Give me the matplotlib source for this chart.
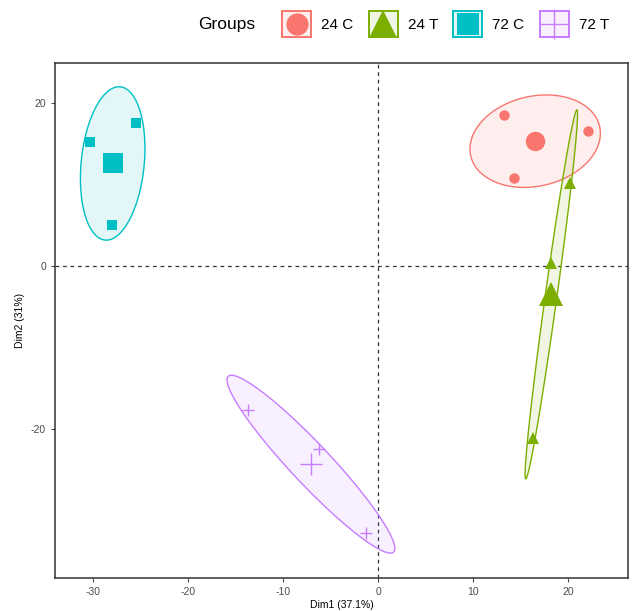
import numpy as np
import matplotlib
matplotlib.use("Agg")
import matplotlib.pyplot as plt
from matplotlib.lines import Line2D
from matplotlib.patches import Polygon, Rectangle
from matplotlib.legend_handler import HandlerBase

plt.rcParams['font.family'] = ['Liberation Sans', 'DejaVu Sans']
plt.rcParams['axes.unicode_minus'] = False

# Data
groups = ["24 C", "24 T", "72 C", "72 T"]
colors = ["#F8766D", "#7CAE00", "#00BFC4", "#C77CFF"]
markers = ["o", "^", "s", "+"]
dim1 = {
    "24 C": [13.2, 22.1, 14.3],
    "24 T": [20.2, 18.2, 16.3],
    "72 C": [-30.3, -25.5, -28.0],
    "72 T": [-13.7, -6.2, -1.3],
}
dim2 = {
    "24 C": [18.5, 16.6, 10.8],
    "24 T": [10.2, 0.4, -21.1],
    "72 C": [15.2, 17.5, 5.0],
    "72 T": [-17.7, -22.5, -32.8],
}
ellipse_scale = np.sqrt(2.0)  # level 0.5 ellipse for n = 3


def ellipse_points(x, y, scale, n=200):
    x = np.asarray(x)
    y = np.asarray(y)
    cov = np.cov(x, y)
    vals, vecs = np.linalg.eigh(cov)
    t = np.linspace(0, 2 * np.pi, n)
    circle = np.vstack([np.cos(t), np.sin(t)])
    pts = vecs @ (np.sqrt(vals)[:, None] * circle) * scale
    return np.column_stack([pts[0] + x.mean(), pts[1] + y.mean()])


class BoxMarkerHandler(HandlerBase):
    # ggplot-like key: light box with the point shape in the middle
    def create_artists(self, legend, orig_handle, xdescent, ydescent,
                       width, height, fontsize, trans):
        c, m, ms, mew = orig_handle
        rect = Rectangle((-xdescent, -ydescent), width, height,
                         facecolor=matplotlib.colors.to_rgba(c, 0.11),
                         edgecolor=c, lw=1.4, transform=trans)
        mk = Line2D([-xdescent + width / 2], [-ydescent + height / 2],
                    linestyle="none", marker=m, color=c, markersize=ms,
                    markeredgewidth=mew, transform=trans)
        return [rect, mk]


fig = plt.figure(figsize=(6.34, 6.11), dpi=100)
ax = fig.add_axes([0.0868, 0.054, 0.9037, 0.843])

small = {"o": 7.5, "^": 8.5, "s": 7.5, "+": 9}
big = {"o": 14, "^": 17, "s": 14, "+": 16}
legend_size = {"o": 16, "^": 20, "s": 16, "+": 22}

handles = []
for g, c, m in zip(groups, colors, markers):
    pts = ellipse_points(dim1[g], dim2[g], ellipse_scale)
    ax.add_patch(Polygon(pts, closed=True, facecolor=c, alpha=0.11, edgecolor="none", zorder=1))
    ax.add_patch(Polygon(pts, closed=True, facecolor="none", edgecolor=c, lw=1.0, zorder=2))
    mew = 1.0 if m == "+" else 0
    ax.plot(dim1[g], dim2[g], linestyle="none", marker=m, color=c,
            markersize=small[m], markeredgewidth=mew, zorder=3)
    ax.plot(np.mean(dim1[g]), np.mean(dim2[g]), linestyle="none", marker=m, color=c,
            markersize=big[m], markeredgewidth=mew, zorder=3)
    handles.append((c, m, legend_size[m], mew))

ax.axhline(0, color="#333333", ls=(0, (3, 3)), lw=0.9, zorder=0)
ax.axvline(0, color="#333333", ls=(0, (3, 3)), lw=0.9, zorder=0)

ax.set_xlim(-34, 26.3)
ax.set_ylim(-38.3, 24.9)
ax.set_xticks([-30, -20, -10, 0, 10, 20])
ax.set_yticks([-20, 0, 20])
ax.tick_params(labelsize=7.5, colors="#4D4D4D", length=3, width=0.8)
for s in ax.spines.values():
    s.set_linewidth(1.1)
    s.set_color("#333333")
ax.set_xlabel("Dim1 (37.1%)", fontsize=7.5, labelpad=2)
ax.set_ylabel("Dim2 (31%)", fontsize=7.5, labelpad=4)

fig.text(198 / 634, 1 - 24 / 611, "Groups", fontsize=12.5, va="center", ha="left")
fig.legend(handles, groups, loc="center right", bbox_to_anchor=(609 / 634, 1 - 24 / 611),
           ncol=4, frameon=False, fontsize=11, handler_map={tuple: BoxMarkerHandler()},
           handlelength=1.9, handleheight=2.3, columnspacing=1.0, handletextpad=0.65,
           borderpad=0.0, borderaxespad=0.0)

fig.savefig("out.png", dpi=100)
